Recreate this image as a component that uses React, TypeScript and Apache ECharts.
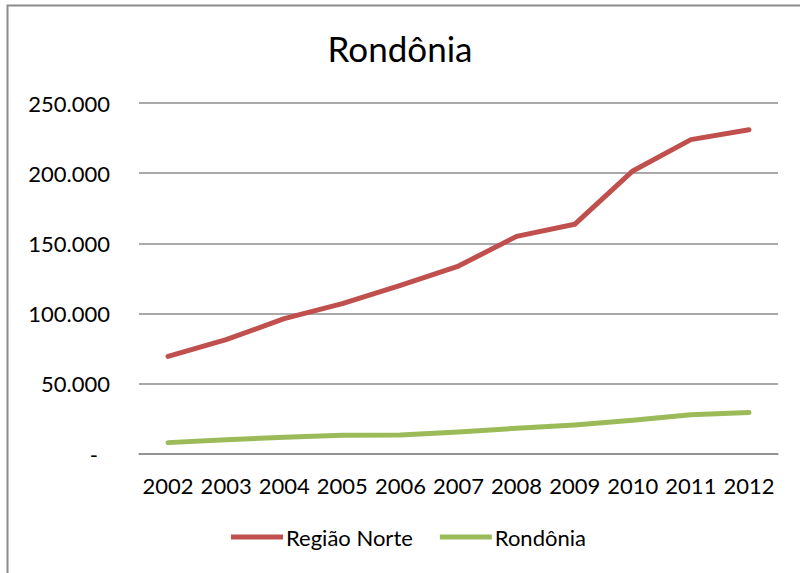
import React, { useEffect, useRef } from "react";
import * as echarts from "echarts";

const years = ["2002", "2003", "2004", "2005", "2006", "2007", "2008", "2009", "2010", "2011", "2012"];
const regiaoNorte = [69500, 81500, 96400, 107100, 120100, 133900, 155000, 163600, 201600, 223900, 231000];
const rondonia = [8100, 10200, 11900, 13300, 13500, 15700, 18300, 20700, 24000, 28000, 29500];
const yTicks = [0, 50000, 100000, 150000, 200000, 250000];

const FONT = "Lato";

function fmt(v: number): string {
  if (v === 0) return "{d|-}";
  return String(Math.round(v)).replace(/\B(?=(\d{3})+(?!\d))/g, ".");
}

export default function App() {
  const ref = useRef<HTMLDivElement>(null);
  useEffect(() => {
    if (!ref.current) return;
    const chart = echarts.init(ref.current, undefined, { renderer: "svg" });
    chart.setOption({
      animation: false,
      backgroundColor: "#ffffff",
      textStyle: { fontFamily: FONT, color: "#000" },
      title: {
        text: "Rondônia",
        left: "center",
        top: 25,
        textStyle: { fontFamily: FONT, fontSize: 35, fontWeight: "normal", color: "#000" },
      },
      graphic: [
        {
          type: "rect",
          shape: { x: 7.5, y: 5.5, width: 820, height: 600 },
          style: { fill: "none", stroke: "#8c8c8c", lineWidth: 2 },
          silent: true,
        },
      ],
      legend: {
        top: 521,
        left: 226,
        icon: "rect",
        itemWidth: 52,
        itemHeight: 5,
        itemGap: 27,
        textStyle: { fontFamily: FONT, fontSize: 22, color: "#000", padding: [0, 0, 0, -2] },
        data: ["Região Norte", "Rondônia"],
      },
      grid: { left: 139, right: 22, top: 103, bottom: 119, containLabel: false },
      xAxis: {
        type: "category",
        data: years,
        boundaryGap: true,
        axisLine: { show: true, lineStyle: { color: "#8c8c8c", width: 1.5 } },
        axisTick: { show: false },
        axisLabel: { fontFamily: FONT, fontSize: 22, color: "#000", margin: 20, interval: 0 },
      },
      yAxis: {
        type: "value",
        min: yTicks[0],
        max: yTicks[yTicks.length - 1],
        interval: 50000,
        axisLine: { show: false },
        axisTick: { show: false },
        splitLine: { show: true, lineStyle: { color: "#8c8c8c", width: 1.5 } },
        axisLabel: {
          fontFamily: FONT,
          fontSize: 22,
          color: "#000",
          margin: 29,
          formatter: (v: number) => fmt(v),
          rich: { d: { fontFamily: FONT, fontSize: 22, color: "#000", padding: [0, 12, 0, 0] } },
        },
      },
      series: [
        {
          name: "Região Norte",
          type: "line",
          data: regiaoNorte,
          symbol: "none",
          lineStyle: { color: "#C0504D", width: 5, cap: "round", join: "round" },
          itemStyle: { color: "#C0504D" },
        },
        {
          name: "Rondônia",
          type: "line",
          data: rondonia,
          symbol: "none",
          lineStyle: { color: "#9BBB59", width: 5, cap: "round", join: "round" },
          itemStyle: { color: "#9BBB59" },
        },
      ],
    });
    return () => chart.dispose();
  }, []);
  return <div ref={ref} style={{ width: 800, height: 573, position: "absolute", left: 0, top: 0 }} />;
}
